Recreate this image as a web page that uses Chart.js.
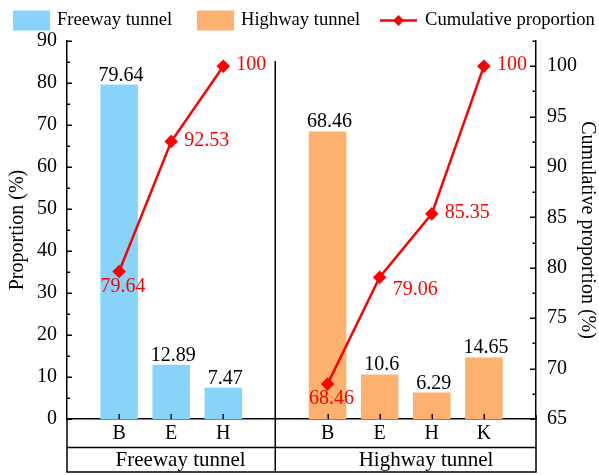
<!DOCTYPE html>
<html>
<head>
<meta charset="utf-8">
<script src="https://cdn.jsdelivr.net/npm/chart.js@4/dist/chart.umd.min.js"></script>
<style>
html,body{margin:0;padding:0;background:#fff;}
#wrap{width:599px;height:475px;}
</style>
</head>
<body>
<div id="wrap"><canvas id="c" width="599" height="475"></canvas></div>
<script>
// ---- data ----
const slots = ['', 'B', 'E', 'H', '', 'B', 'E', 'H', 'K', ''];
const groupNames = ['Freeway tunnel', 'Highway tunnel'];
const freewayValues = [null, 79.64, 12.89, 7.47, null, null, null, null, null, null];
const highwayValues = [null, null, null, null, null, 68.46, 10.6, 6.29, 14.65, null];
const cumulativeValues = [null, 79.64, 92.53, 100, null, 68.46, 79.06, 85.35, 100, null];
const leftTickValues = [0, 10, 20, 30, 40, 50, 60, 70, 80, 90];
const rightTickValues = [65, 70, 75, 80, 85, 90, 95, 100];

// ---- style / layout ----
const FONT = '"Liberation Serif", "Times New Roman", serif';
const BLUE = '#87D3FA';
const ORANGE = '#FDB16F';
const RED = '#FF0000';
const cumLabelPlacement = [null, 'below', 'right', 'right', null, 'below', 'rightBelow', 'right', 'right', null];
const groupSpans = [[0, 4], [4, 9]];
const groupLabelIndex = [2.18, 6.89];

const AREA = {left: 67, right: 536, top: 41, bottom: 419};

const decorPlugin = {
  id: 'decor',
  afterDatasetsDraw(chart) {
    const ctx = chart.ctx;
    ctx.save();
    // bar value labels
    ctx.font = '20px ' + FONT;
    ctx.fillStyle = '#000';
    ctx.textAlign = 'center';
    ctx.textBaseline = 'alphabetic';
    [0, 1].forEach(di => {
      const meta = chart.getDatasetMeta(di);
      const vals = chart.data.datasets[di].data;
      meta.data.forEach((el, i) => {
        if (vals[i] == null) return;
        ctx.fillText(String(vals[i]), el.x + 2, el.y - 4);
      });
    });
    // cumulative labels
    ctx.fillStyle = RED;
    const lm = chart.getDatasetMeta(2);
    lm.data.forEach((el, i) => {
      const v = cumulativeValues[i];
      if (v == null) return;
      const p = cumLabelPlacement[i];
      if (p === 'below') {
        ctx.textAlign = 'center'; ctx.textBaseline = 'middle';
        ctx.fillText(String(v), el.x + 4, el.y + 15);
      } else if (p === 'rightBelow') {
        ctx.textAlign = 'left'; ctx.textBaseline = 'middle';
        ctx.fillText(String(v), el.x + 13, el.y + 12);
      } else {
        ctx.textAlign = 'left'; ctx.textBaseline = 'middle';
        ctx.fillText(String(v), el.x + 13, el.y - 1);
      }
    });
    ctx.restore();
  },
  afterDraw(chart) {
    const ctx = chart.ctx;
    const x = chart.scales.x, yL = chart.scales.y, yR = chart.scales.y2;
    const ca = chart.chartArea;
    ctx.save();
    ctx.strokeStyle = '#000';
    ctx.lineWidth = 1.5;
    ctx.beginPath();
    // left axis ticks (inward)
    for (let v = yL.min; v <= yL.max + 1e-9; v += 5) {
      const py = Math.round(yL.getPixelForValue(v)) + 0.25;
      const len = (v % 10 === 0) ? 5 : 3;
      ctx.moveTo(ca.left, py); ctx.lineTo(ca.left + len, py);
    }
    // right axis ticks (inward)
    for (let v = yR.min; v <= yR.max + 1e-9; v += 2.5) {
      const py = Math.round(yR.getPixelForValue(v)) + 0.25;
      const len = (Math.abs(v % 5) < 1e-9) ? 6 : 3.5;
      ctx.moveTo(ca.right, py); ctx.lineTo(ca.right - len, py);
    }
    // bottom category ticks (inward)
    slots.forEach((s, i) => {
      if (!s) return;
      const px = Math.round(x.getPixelForValue(i)) + 0.25;
      ctx.moveTo(px, ca.bottom); ctx.lineTo(px, ca.bottom - 5);
    });
    ctx.stroke();

    // table below the axis
    const rowMid = 447.5, tableBottom = 472;
    ctx.beginPath();
    ctx.moveTo(ca.left, ca.bottom); ctx.lineTo(ca.left, tableBottom);
    ctx.moveTo(ca.right, ca.bottom - 4); ctx.lineTo(ca.right, tableBottom);
    ctx.moveTo(ca.left, rowMid); ctx.lineTo(ca.right, rowMid);
    ctx.moveTo(ca.left - 0.75, tableBottom); ctx.lineTo(ca.right + 0.75, tableBottom);
    const sepX = Math.round(x.getPixelForValue(groupSpans[0][1])) + 0.25;
    ctx.moveTo(sepX, ca.top + 20); ctx.lineTo(sepX, tableBottom);
    ctx.stroke();

    // group labels
    ctx.fillStyle = '#000';
    ctx.font = '21px ' + FONT;
    ctx.textAlign = 'center';
    ctx.textBaseline = 'middle';
    groupNames.forEach((g, gi) => {
      ctx.fillText(g, x.getPixelForValue(groupLabelIndex[gi]), 460.5);
    });

    // legend
    const items = [
      {type: 'box', color: BLUE, label: chart.data.datasets[0].label, x: 13},
      {type: 'box', color: ORANGE, label: chart.data.datasets[1].label, x: 197},
      {type: 'line', color: RED, label: chart.data.datasets[2].label, x: 380}
    ];
    const ly = 20.5;
    ctx.font = '18.6px ' + FONT;
    ctx.textAlign = 'left';
    ctx.textBaseline = 'middle';
    items.forEach(it => {
      if (it.type === 'box') {
        ctx.fillStyle = it.color;
        ctx.fillRect(it.x, ly - 10, 37, 20);
        ctx.fillStyle = '#000';
        ctx.fillText(it.label, it.x + 44, ly);
      } else {
        ctx.strokeStyle = it.color; ctx.lineWidth = 2.5;
        ctx.beginPath(); ctx.moveTo(it.x, ly); ctx.lineTo(it.x + 37, ly); ctx.stroke();
        ctx.fillStyle = it.color;
        ctx.beginPath();
        const cx = it.x + 18.5, r = 5.5;
        ctx.moveTo(cx, ly - r); ctx.lineTo(cx + r, ly); ctx.lineTo(cx, ly + r); ctx.lineTo(cx - r, ly); ctx.closePath(); ctx.fill();
        ctx.fillStyle = '#000';
        ctx.fillText(it.label, it.x + 45, ly);
      }
    });
    ctx.restore();
  }
};

new Chart(document.getElementById('c'), {
  type: 'bar',
  data: {
    labels: slots,
    datasets: [
      {label: 'Freeway tunnel', data: freewayValues, backgroundColor: BLUE, yAxisID: 'y', order: 2,
       categoryPercentage: 1, barPercentage: 0.72},
      {label: 'Highway tunnel', data: highwayValues, backgroundColor: ORANGE, yAxisID: 'y', order: 2,
       categoryPercentage: 1, barPercentage: 0.72},
      {type: 'line', label: 'Cumulative proportion', data: cumulativeValues, yAxisID: 'y2', order: 0,
       borderColor: RED, backgroundColor: RED, borderWidth: 2.5, pointStyle: 'rectRot', pointRadius: 5,
       pointBackgroundColor: RED, pointBorderColor: RED, spanGaps: false, tension: 0}
    ]
  },
  options: {
    responsive: false,
    animation: false,
    devicePixelRatio: 1,
    layout: {padding: {top: AREA.top, left: 0, right: 0, bottom: 0}},
    plugins: {legend: {display: false}, tooltip: {enabled: false}},
    scales: {
      x: {
        type: 'category', offset: false, stacked: true,
        grid: {display: false, drawTicks: false},
        border: {display: true, color: '#000', width: 1.5},
        ticks: {autoSkip: false, maxRotation: 0, padding: 3, color: '#000', font: {family: FONT, size: 20}},
        afterFit(s) { s.height = 475 - AREA.bottom; }
      },
      y: {
        position: 'left', min: 0, max: 90,
        grid: {display: false, drawTicks: false},
        border: {display: true, color: '#000', width: 1.5},
        ticks: {stepSize: 10, padding: 10, color: '#000', font: {family: FONT, size: 20},
                callback: v => leftTickValues.includes(v) ? String(v) : ''},
        title: {display: true, text: 'Proportion (%)', color: '#000', font: {family: FONT, size: 20}, padding: {top: 6, bottom: 0}},
        afterFit(s) { s.width = AREA.left; }
      },
      y2: {
        position: 'right', min: 65, max: 102.5,
        grid: {display: false, drawTicks: false},
        border: {display: true, color: '#000', width: 1.5},
        ticks: {stepSize: 5, includeBounds: false, padding: 11, color: '#000', font: {family: FONT, size: 20},
                callback: v => rightTickValues.includes(v) ? String(v) : ''},
        title: {display: true, text: 'Cumulative proportion (%)', color: '#000', font: {family: FONT, size: 20}, padding: {top: 0, bottom: 0}},
        afterFit(s) { s.width = 599 - AREA.right; }
      }
    }
  },
  plugins: [decorPlugin]
});
</script>
</body>
</html>
